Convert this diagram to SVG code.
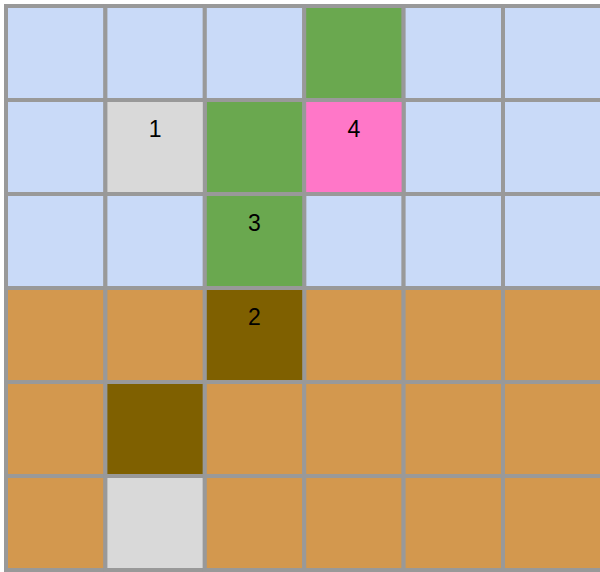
<svg xmlns="http://www.w3.org/2000/svg" width="600" height="572" viewBox="0 0 600 572">
<style>
.c{stroke:#999999;stroke-width:4}
.b{fill:#c9daf8}.o{fill:#d3984e}.g{fill:#6aa84f}.y{fill:#d9d9d9}.p{fill:#ff77c8}.d{fill:#7f6000}
text{font-family:"Liberation Sans",Arial,sans-serif;font-size:23px;fill:#000;text-anchor:middle}
</style>
<rect width="600" height="572" fill="#ffffff"/>
<g id="row0">
<rect class="c b" x="6" y="6" width="99.4" height="94"/>
<rect class="c b" x="105.4" y="6" width="99.4" height="94"/>
<rect class="c b" x="204.8" y="6" width="99.4" height="94"/>
<rect class="c g" x="304.2" y="6" width="99.4" height="94"/>
<rect class="c b" x="403.6" y="6" width="99.4" height="94"/>
<rect class="c b" x="503" y="6" width="99.4" height="94"/>
</g>
<g id="row1">
<rect class="c b" x="6" y="100" width="99.4" height="94"/>
<rect class="c b" x="403.6" y="100" width="99.4" height="94"/>
<rect class="c b" x="503" y="100" width="99.4" height="94"/>
<rect class="c g" x="204.8" y="100" width="99.4" height="94"/>
</g>
<g id="node1"><rect class="c y" x="105.4" y="100" width="99.4" height="94"/><text x="155.1" y="137">1</text></g>
<g id="node4"><rect class="c p" x="304.2" y="100" width="99.4" height="94"/><text x="353.9" y="137">4</text></g>
<g id="row2">
<rect class="c b" x="6" y="194" width="99.4" height="94"/>
<rect class="c b" x="105.4" y="194" width="99.4" height="94"/>
<rect class="c b" x="304.2" y="194" width="99.4" height="94"/>
<rect class="c b" x="403.6" y="194" width="99.4" height="94"/>
<rect class="c b" x="503" y="194" width="99.4" height="94"/>
</g>
<g id="node3"><rect class="c g" x="204.8" y="194" width="99.4" height="94"/><text x="254.5" y="231">3</text></g>
<g id="row3">
<rect class="c o" x="6" y="288" width="99.4" height="94"/>
<rect class="c o" x="105.4" y="288" width="99.4" height="94"/>
<rect class="c o" x="304.2" y="288" width="99.4" height="94"/>
<rect class="c o" x="403.6" y="288" width="99.4" height="94"/>
<rect class="c o" x="503" y="288" width="99.4" height="94"/>
</g>
<g id="node2"><rect class="c d" x="204.8" y="288" width="99.4" height="94"/><text x="254.5" y="325">2</text></g>
<g id="row4">
<rect class="c o" x="6" y="382" width="99.4" height="94"/>
<rect class="c d" x="105.4" y="382" width="99.4" height="94"/>
<rect class="c o" x="204.8" y="382" width="99.4" height="94"/>
<rect class="c o" x="304.2" y="382" width="99.4" height="94"/>
<rect class="c o" x="403.6" y="382" width="99.4" height="94"/>
<rect class="c o" x="503" y="382" width="99.4" height="94"/>
</g>
<g id="row5">
<rect class="c o" x="6" y="476" width="99.4" height="94"/>
<rect class="c y" x="105.4" y="476" width="99.4" height="94"/>
<rect class="c o" x="204.8" y="476" width="99.4" height="94"/>
<rect class="c o" x="304.2" y="476" width="99.4" height="94"/>
<rect class="c o" x="403.6" y="476" width="99.4" height="94"/>
<rect class="c o" x="503" y="476" width="99.4" height="94"/>
</g>
<g id="connectors"></g>
</svg>
